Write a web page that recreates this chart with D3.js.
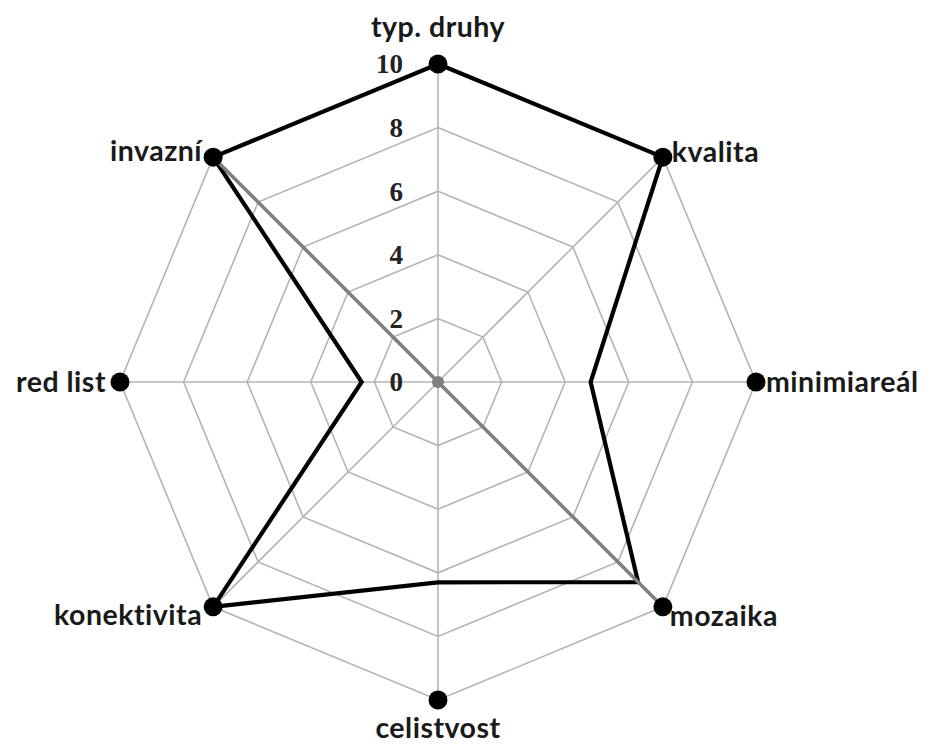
<!DOCTYPE html>
<html>
<head>
<meta charset="utf-8">
<script src="https://cdn.jsdelivr.net/npm/d3@7"></script>
<style>
  html, body { margin: 0; padding: 0; background: #fff; }
  svg { display: block; }
</style>
</head>
<body>
<svg id="chart" width="930" height="745"></svg>
<script>
// ---- data ----
const categories = ["typ. druhy", "kvalita", "minimiareál", "mozaika", "celistvost", "konektivita", "red list", "invazní"];
const seriesMain = [10, 10, 4.8, 8.9, 6.3, 10, 2.4, 10];     // black line
const seriesGray = [0, 0, 0, 10, 0, 0, 0, 10];                // gray line
const seriesMarkers = [10, 10, 10, 10, 10, 10, 10, 10];       // black markers
const tickValues = [0, 2, 4, 6, 8, 10];
const tickLabels = ["0", "2", "4", "6", "8", "10"];

// ---- layout ----
const cx = 438, cy = 382, R = 318;
const svg = d3.select("#chart");
const g = svg.append("g").attr("transform", `translate(${cx},${cy})`);

const r = d3.scaleLinear().domain([0, 10]).range([0, R]);
const angle = d3.scaleLinear().domain([0, categories.length]).range([0, 2 * Math.PI]);

const pt = (i, v) => [r(v) * Math.sin(angle(i)), -r(v) * Math.cos(angle(i))];

const radial = d3.lineRadial()
  .angle((d, i) => angle(i))
  .radius(d => r(d))
  .curve(d3.curveLinearClosed);

// grid rings
tickValues.filter(t => t > 0).forEach(t => {
  g.append("path")
    .attr("d", radial(categories.map(() => t)))
    .attr("fill", "none")
    .attr("stroke", "#b4b4b4")
    .attr("stroke-width", 1.6);
});

// spokes
categories.forEach((c, i) => {
  const [x, y] = pt(i, 10);
  g.append("line")
    .attr("x1", 0).attr("y1", 0).attr("x2", x).attr("y2", y)
    .attr("stroke", "#b4b4b4").attr("stroke-width", 1.6);
});

// main black series
g.append("path")
  .attr("d", radial(seriesMain))
  .attr("fill", "none")
  .attr("stroke", "#000")
  .attr("stroke-width", 4.2)
  .attr("stroke-linejoin", "miter");

// gray series
g.append("path")
  .attr("d", radial(seriesGray))
  .attr("fill", "none")
  .attr("stroke", "#7f7f7f")
  .attr("stroke-width", 3.5)
  .attr("stroke-linejoin", "round");

g.selectAll("circle.gray")
  .data(seriesGray.filter(v => v === 0).slice(0, 1))
  .enter().append("circle")
  .attr("class", "gray")
  .attr("cx", 0).attr("cy", 0).attr("r", 6)
  .attr("fill", "#7f7f7f");

// marker series
g.selectAll("circle.mk")
  .data(seriesMarkers)
  .enter().append("circle")
  .attr("class", "mk")
  .attr("cx", (d, i) => pt(i, d)[0])
  .attr("cy", (d, i) => pt(i, d)[1])
  .attr("r", 9.5)
  .attr("fill", "#000");

// tick labels
g.selectAll("text.tick")
  .data(tickValues)
  .enter().append("text")
  .attr("class", "tick")
  .attr("x", -35)
  .attr("y", d => -r(d))
  .attr("dy", "0.35em")
  .attr("text-anchor", "end")
  .attr("font-family", "Liberation Serif, serif")
  .attr("font-weight", "bold")
  .attr("font-size", 27)
  .attr("fill", "#222")
  .text((d, i) => tickLabels[i]);

// category labels
const labelPos = [
  { dx: 0, dy: -37, anchor: "middle" },
  { dx: 9, dy: -5, anchor: "start" },
  { dx: 10, dy: 0, anchor: "start" },
  { dx: 7, dy: 9, anchor: "start" },
  { dx: 0, dy: 28, anchor: "middle" },
  { dx: -11, dy: 8, anchor: "end" },
  { dx: -14, dy: 0, anchor: "end" },
  { dx: -11, dy: -6, anchor: "end" }
];
categories.forEach((c, i) => {
  const [x, y] = pt(i, 10);
  const p = labelPos[i];
  g.append("text")
    .attr("x", x + p.dx)
    .attr("y", y + p.dy)
    .attr("dy", "0.35em")
    .attr("text-anchor", p.anchor)
    .attr("font-family", "Lato, sans-serif")
    .attr("font-weight", "bold")
    .attr("font-size", 28.5)
    .attr("letter-spacing", 0.5)
    .attr("fill", "#1a1a1a")
    .text(c);
});
</script>
</body>
</html>
